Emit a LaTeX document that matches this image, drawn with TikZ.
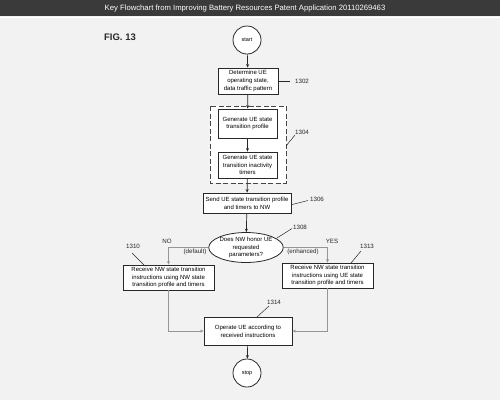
\documentclass[tikz,border=0pt]{standalone}
\usepackage{fontspec}
\setmainfont{Liberation Sans}
\usetikzlibrary{arrows.meta,shapes.geometric}
\definecolor{bgc}{RGB}{242,242,242}
\definecolor{barc}{RGB}{58,58,58}
\definecolor{linec}{RGB}{40,40,40}
\definecolor{dashc}{RGB}{70,70,70}
\definecolor{softc}{RGB}{150,150,150}
\tikzset{
  boxst/.style={draw=linec, line width=0.8pt, fill=white, rectangle, align=center, inner sep=1pt, font=\fontsize{6}{7.8}\selectfont},
  termst/.style={draw=linec, line width=0.8pt, fill=white, circle, minimum size=28pt, inner sep=0pt, font=\fontsize{5.5}{6.5}\selectfont},
  arrowst/.style={draw=linec, line width=0.7pt, -{Stealth[length=3.5pt,width=3pt]}},
  softarrow/.style={draw=softc, line width=0.6pt, -{Stealth[length=3.5pt,width=3pt]}},
  leadst/.style={draw=linec, line width=0.5pt},
  labst/.style={font=\fontsize{6.2}{7.5}\selectfont, inner sep=0pt, text=linec},
}
\begin{document}
\begin{tikzpicture}[x=1pt,y=-1pt]
\useasboundingbox (0,0) rectangle (500,400);
\fill[bgc] (0,0) rectangle (500,400);
\fill[barc] (0,0) rectangle (500,16);
\draw[white, line width=1pt] (0,17) -- (500,17);
\node[text=white, font=\fontsize{7.7}{9}\selectfont] (title) at (245,8.5) {Key Flowchart from Improving Battery Resources Patent Application 20110269463};
\node[font=\bfseries\fontsize{9.5}{11}\selectfont, text=linec] (fig) at (120,37) {FIG. 13};

% dashed group
\draw[dashc, line width=1pt, dash pattern=on 5pt off 2.5pt, fill=white] (210,106) rectangle (286,183);
\coordinate (dashR) at (286,146);

\node[termst] (start) at (247,40) {start};
\node[boxst, minimum width=60pt, minimum height=26pt] (b1302) at (248,81) {Determine UE\\operating state,\\data traffic pattern};
\node[boxst, minimum width=59pt, minimum height=29pt] (b1a) at (247.5,123.5) {Generate UE state\\transition profile};
\node[boxst, minimum width=59pt, minimum height=26pt] (b1b) at (247.5,165) {Generate UE state\\transition inactivity\\timers};
\node[boxst, minimum width=88pt, minimum height=20pt] (b1306) at (247,203) {Send UE state transition profile\\and timers to NW};
\node[boxst, ellipse, minimum width=68pt, minimum height=29pt, inner sep=0pt] (ell) at (246,247.5) {Does NW honor UE\\requested\\parameters?};
\node[boxst, minimum width=91pt, minimum height=25pt] (bL) at (168.5,277.5) {Receive NW state transition\\instructions using NW state\\transition profile and timers};
\node[boxst, minimum width=91pt, minimum height=25pt] (bR) at (327.5,275.5) {Receive NW state transition\\instructions using UE state\\transition profile and timers};
\node[boxst, minimum width=88pt, minimum height=28pt] (b1314) at (248,331) {Operate UE according to\\received instructions};
\node[termst] (stop) at (247,373) {stop};

% main arrows
\draw[arrowst] (start) -- (b1302);
\draw[arrowst] (b1302) -- (b1a);
\draw[arrowst] (b1a) -- (b1b);
\draw[arrowst] (b1b) -- (b1306);
\draw[arrowst] (b1306) -- (ell);
\draw[softarrow] (ell.west) -| (bL.north);
\draw[softarrow] (ell.east) -| (bR.north);
\draw[softarrow] (bL.south) |- (b1314.west);
\draw[softarrow] (bR.south) |- (b1314.east);
\draw[arrowst] (b1314) -- (stop);

% branch labels
\node[labst] (no) at (167,241) {NO};
\node[labst] (yes) at (332,241.5) {YES};
\node[labst] (def) at (195,252) {(default)};
\node[labst] (enh) at (303,252) {(enhanced)};

% reference numerals
\node[labst] (l1302) at (302,81) {1302};
\draw[leadst] (b1302.east) ++(1,0) coordinate (c1302) -- (290,81) coordinate (d1302);
\node[labst] (l1304) at (302,132.5) {1304};
\draw[leadst] (dashR) -- (295,135);
\node[labst] (l1306) at (317,199) {1306};
\draw[leadst] (292,204.5) -- (308,200.5);
\node[labst] (l1308) at (300,227.5) {1308};
\draw[leadst] (277,238) -- (292,228.5);
\node[labst] (l1310) at (133,246) {1310};
\draw[leadst] (132,253) -- (144,265);
\node[labst] (l1313) at (367,246) {1313};
\draw[leadst] (361,251) -- (351,263);
\node[labst] (l1314) at (274,302) {1314};
\draw[leadst] (257,317) -- (269,306);
\end{tikzpicture}
\end{document}
